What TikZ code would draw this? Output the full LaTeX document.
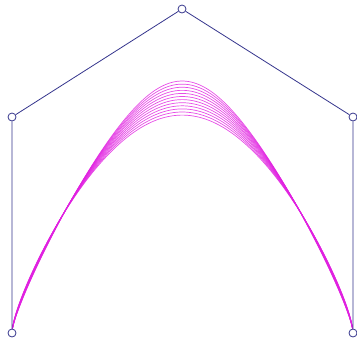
\documentclass[tikz,border=0pt]{standalone}
\definecolor{polyblue}{HTML}{34348C}
\definecolor{curvemag}{HTML}{E020E0}
\tikzset{
  ctrlpt/.style={circle, draw=polyblue, line width=0.8pt, minimum size=8pt, inner sep=0pt, fill=white},
  polyline/.style={draw=polyblue, line width=0.8pt},
  curveline/.style={draw=curvemag, line width=0.7pt, opacity=0.8}
}
\begin{document}
\begin{tikzpicture}[x=1pt,y=-1pt,
  declare function={
    bz(\t)=(1-\t)^4; bo(\t)=4*\t*(1-\t)^3; bt(\t)=6*\t^2*(1-\t)^2; bh(\t)=4*\t^3*(1-\t); bf(\t)=\t^4;
  }]
\useasboundingbox (0,0) rectangle (357,341);
\def\aw{0.2}
\foreach \k in {0,...,11}{
  \pgfmathsetmacro{\py}{81+\k*3.1}
  \pgfmathsetmacro{\w}{(666+936*\aw-\py*(2+8*\aw))/(6*\py-54)}
  \draw[curveline] plot[domain=0:1, samples=90, smooth, variable=\t]
   ({(12*bz(\t)+12*\aw*bo(\t)+182*\w*bt(\t)+353*\aw*bh(\t)+353*bf(\t))/(bz(\t)+\aw*bo(\t)+\w*bt(\t)+\aw*bh(\t)+bf(\t))},
    {(333*bz(\t)+117*\aw*bo(\t)+9*\w*bt(\t)+117*\aw*bh(\t)+333*bf(\t))/(bz(\t)+\aw*bo(\t)+\w*bt(\t)+\aw*bh(\t)+bf(\t))});
}
\node[ctrlpt] (p0) at (12,333) {};
\node[ctrlpt] (p1) at (12,117) {};
\node[ctrlpt] (p2) at (182,9) {};
\node[ctrlpt] (p3) at (353,117) {};
\node[ctrlpt] (p4) at (353,333) {};
\draw[polyline] (p0) -- (p1) -- (p2) -- (p3) -- (p4);
\end{tikzpicture}
\end{document}
